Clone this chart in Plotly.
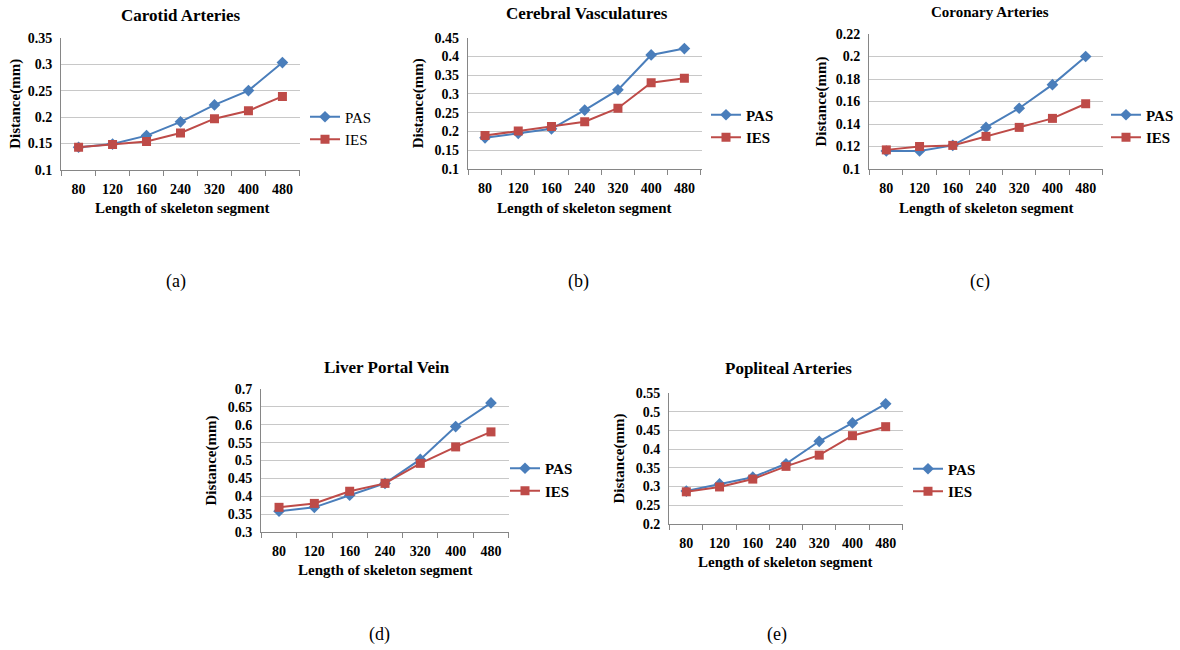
import plotly.graph_objects as go

categories = ["80", "120", "160", "240", "320", "400", "480"]

titles = ["Carotid Arteries", "Cerebral Vasculatures", "Coronary Arteries",
          "Liver Portal Vein", "Popliteal Arteries"]
captions = ["(a)", "(b)", "(c)", "(d)", "(e)"]

pas_a = [0.143, 0.149, 0.165, 0.191, 0.223, 0.250, 0.303]
ies_a = [0.143, 0.148, 0.154, 0.170, 0.197, 0.212, 0.239]
pas_b = [0.183, 0.195, 0.207, 0.257, 0.311, 0.404, 0.421]
ies_b = [0.189, 0.201, 0.213, 0.226, 0.262, 0.330, 0.342]
pas_c = [0.116, 0.116, 0.121, 0.137, 0.154, 0.175, 0.200]
ies_c = [0.117, 0.120, 0.121, 0.129, 0.137, 0.145, 0.158]
pas_d = [0.358, 0.369, 0.403, 0.436, 0.503, 0.595, 0.661]
ies_d = [0.369, 0.380, 0.414, 0.436, 0.492, 0.538, 0.580]
pas_e = [0.288, 0.307, 0.325, 0.361, 0.421, 0.470, 0.521]
ies_e = [0.286, 0.299, 0.320, 0.354, 0.384, 0.436, 0.460]

yticks_a = [0.1, 0.15, 0.2, 0.25, 0.3, 0.35]
yticks_b = [0.1, 0.15, 0.2, 0.25, 0.3, 0.35, 0.4, 0.45]
yticks_c = [0.1, 0.12, 0.14, 0.16, 0.18, 0.2, 0.22]
yticks_d = [0.3, 0.35, 0.4, 0.45, 0.5, 0.55, 0.6, 0.65, 0.7]
yticks_e = [0.2, 0.25, 0.3, 0.35, 0.4, 0.45, 0.5, 0.55]

W, H = 1180, 650
SERIF = "Liberation Serif"
BLUE = "#4A7EBB"
RED = "#BE4B48"

# layout geometry (window pixels)
panels = [
    dict(pas=pas_a, ies=ies_a, yt=yticks_a, x=(61, 300), y=(37.7, 170),
         title=(181, 15, 17), ytitle=16, xtitle=(182, 208), leg=(305, 128), legbold=False,
         cap=(176, 282)),
    dict(pas=pas_b, ies=ies_b, yt=yticks_b, x=(467.7, 701.7), y=(37.7, 169),
         title=(587, 13, 17), ytitle=418, xtitle=(584, 208), leg=(706, 126), legbold=True,
         cap=(578, 282)),
    dict(pas=pas_c, ies=ies_c, yt=yticks_c, x=(869, 1103), y=(34, 169),
         title=(990, 12, 15), ytitle=821, xtitle=(986, 208), leg=(1106, 126), legbold=True,
         cap=(980, 282)),
    dict(pas=pas_d, ies=ies_d, yt=yticks_d, x=(261, 509), y=(389, 532),
         title=(387, 367, 17), ytitle=211, xtitle=(385, 570), leg=(505, 479.5), legbold=True,
         cap=(380, 634)),
    dict(pas=pas_e, ies=ies_e, yt=yticks_e, x=(669, 903), y=(393, 524),
         title=(789, 368, 17), ytitle=619, xtitle=(785, 562), leg=(908, 480), legbold=True,
         cap=(777, 634)),
]

fig = go.Figure()
annotations = []
layout = dict(width=W, height=H, margin=dict(l=0, r=0, t=0, b=0, autoexpand=False),
              paper_bgcolor="white", plot_bgcolor="white", showlegend=True,
              hovermode=False)


def px(x):
    return x / W


def py(y):
    return 1 - y / H


def bold(s, b=True):
    return f"<b>{s}</b>" if b else s


for i, p in enumerate(panels):
    n = "" if i == 0 else str(i + 1)
    leg = "legend" if i == 0 else f"legend{i + 1}"
    fig.add_trace(go.Scatter(
        x=categories, y=p["pas"], name=bold("PAS", p["legbold"]), mode="lines+markers",
        line=dict(color=BLUE, width=2), marker=dict(symbol="diamond", size=9, color=BLUE),
        xaxis="x" + n, yaxis="y" + n, legend=leg))
    fig.add_trace(go.Scatter(
        x=categories, y=p["ies"], name=bold("IES", p["legbold"]), mode="lines+markers",
        line=dict(color=RED, width=2), marker=dict(symbol="square", size=9, color=RED),
        xaxis="x" + n, yaxis="y" + n, legend=leg))

    yt = p["yt"]
    layout["xaxis" + n] = dict(
        domain=[px(p["x"][0]), px(p["x"][1])], anchor="y" + n, type="category",
        tickson="boundaries", ticks="outside", ticklen=5, tickcolor="#868686",
        showline=True, linecolor="#868686", linewidth=1, showgrid=False,
        automargin=False, ticklabelstandoff=6,
        tickfont=dict(family=SERIF, size=14, color="black"),
        tickvals=categories, ticktext=[bold(c) for c in categories])
    layout["yaxis" + n] = dict(
        domain=[py(p["y"][1]), py(p["y"][0])], anchor="x" + n,
        range=[yt[0], yt[-1]], tickvals=yt, ticktext=[bold(f"{v:g}") for v in yt],
        showline=True, linecolor="#868686", linewidth=1, ticks="",
        ticklabelstandoff=5, automargin=False,
        showgrid=True, gridcolor="#C8C8C8", gridwidth=1, zeroline=False,
        tickfont=dict(family=SERIF, size=14, color="black"))
    layout[leg] = dict(
        x=px(p["leg"][0]), y=py(p["leg"][1]), xanchor="left", yanchor="middle",
        bgcolor="rgba(0,0,0,0)",
        font=dict(family=SERIF, size=15, color="black"))

    tx, ty, ts = p["title"]
    annotations.append(dict(x=px(tx), y=py(ty), xref="paper", yref="paper",
                            text=bold(titles[i]), showarrow=False,
                            xanchor="center", yanchor="middle",
                            font=dict(family=SERIF, size=ts, color="black")))
    annotations.append(dict(x=px(p["ytitle"]), y=py((p["y"][0] + p["y"][1]) / 2),
                            xref="paper", yref="paper", text=bold("Distance(mm)"),
                            textangle=-90, showarrow=False,
                            xanchor="center", yanchor="middle",
                            font=dict(family=SERIF, size=15, color="black")))
    annotations.append(dict(x=px(p["xtitle"][0]), y=py(p["xtitle"][1]),
                            xref="paper", yref="paper",
                            text=bold("Length of skeleton segment"), showarrow=False,
                            xanchor="center", yanchor="middle",
                            font=dict(family=SERIF, size=15, color="black")))
    annotations.append(dict(x=px(p["cap"][0]), y=py(p["cap"][1]),
                            xref="paper", yref="paper", text=captions[i], showarrow=False,
                            xanchor="center", yanchor="middle",
                            font=dict(family=SERIF, size=18, color="black")))

layout["annotations"] = annotations
fig.update_layout(**layout)
fig.write_html("out.html", config={"displayModeBar": False, "staticPlot": True},
               post_script="document.body.style.margin='0';document.body.style.overflow='hidden';")
